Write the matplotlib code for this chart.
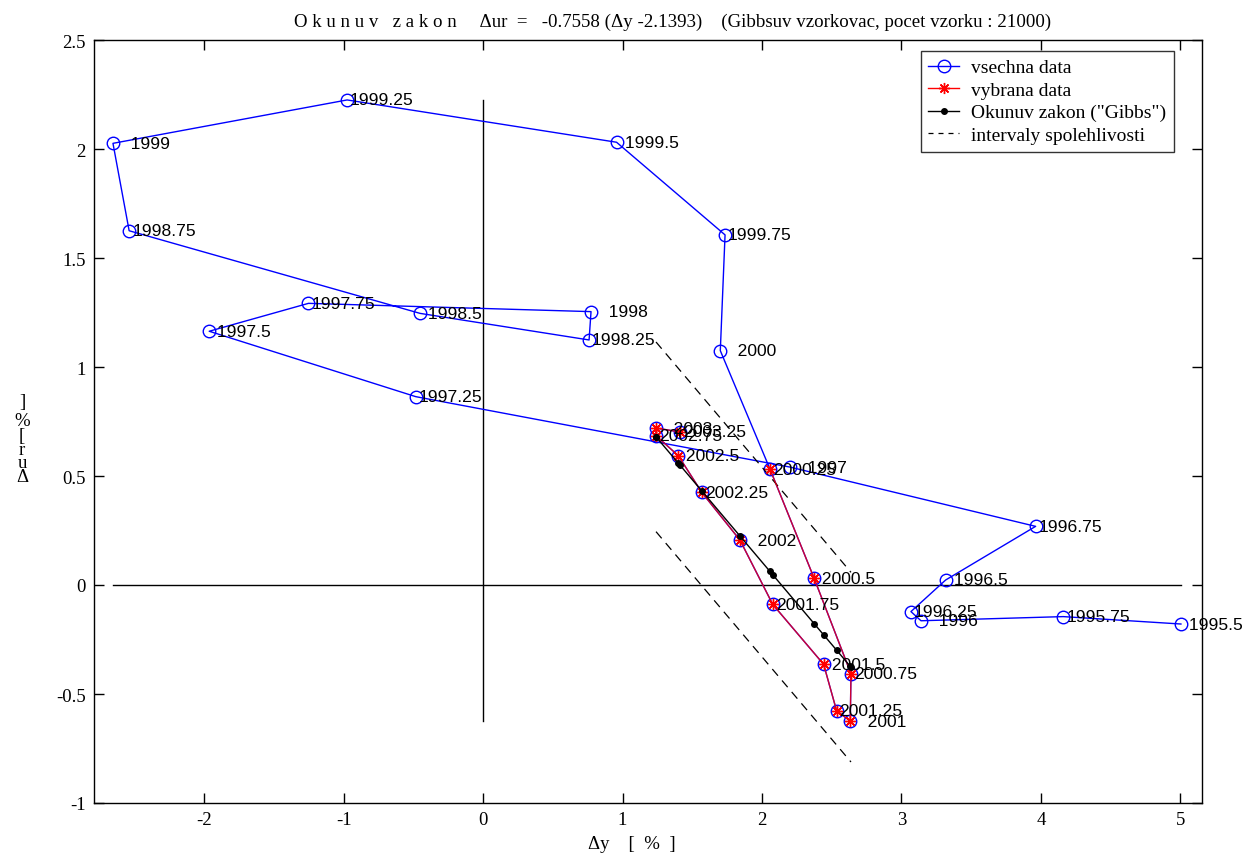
import matplotlib
matplotlib.use('Agg')
import matplotlib.pyplot as plt
from matplotlib.lines import Line2D
import numpy as np

# ---------------- data ----------------
years = [1995.5, 1995.75, 1996.0, 1996.25, 1996.5, 1996.75,
         1997.0, 1997.25, 1997.5, 1997.75, 1998.0, 1998.25,
         1998.5, 1998.75, 1999.0, 1999.25, 1999.5, 1999.75,
         2000.0, 2000.25, 2000.5, 2000.75, 2001.0, 2001.25,
         2001.5, 2001.75, 2002.0, 2002.25, 2002.5, 2002.75,
         2003.0, 2003.25]
dy = [5.004, 4.160, 3.140, 3.068, 3.317, 3.962,
      2.200, -0.483, -1.964, -1.252, 0.774, 0.760,
      -0.452, -2.538, -2.654, -0.975, 0.957, 1.735,
      1.701, 2.057, 2.373, 2.638, 2.633, 2.535,
      2.442, 2.077, 1.842, 1.568, 1.400, 1.240,
      1.240, 1.412]
dur = [-0.179, -0.145, -0.164, -0.122, 0.023, 0.269,
       0.541, 0.864, 1.164, 1.292, 1.254, 1.124,
       1.246, 1.625, 2.026, 2.225, 2.031, 1.606,
       1.075, 0.532, 0.032, -0.407, -0.624, -0.577,
       -0.364, -0.089, 0.206, 0.425, 0.593, 0.685,
       0.720, 0.702]
selection_start = 2000.25          # "vybrana data" = from 2000.25 on
okun_slope = -0.7558               # from the title
okun_shift = 2.1393                # from the title
ci_halfwidth = 0.435               # half width of the dashed band

x_ticks = [-2, -1, 0, 1, 2, 3, 4, 5]
y_ticks = [-1, -0.5, 0, 0.5, 1, 1.5, 2, 2.5]

title_text = ("O k u n u v   z a k o n     \u0394ur  =   -0.7558 (\u0394y -2.1393)"
              "    (Gibbsuv vzorkovac, pocet vzorku : 21000)")
legend_labels = ["vsechna data", "vybrana data",
                 "Okunuv zakon (\"Gibbs\")", "intervaly spolehlivosti"]

# ---------------- figure ----------------
W, H = 1244, 854
fig = plt.figure(figsize=(W / 100, H / 100), dpi=100)
ax = fig.add_axes([94 / W, 1 - 804 / H, (1202 - 94) / W, (804 - 41) / H])

serif = ['Liberation Serif', 'DejaVu Serif']
sans = ['Liberation Sans', 'DejaVu Sans']

x = np.array(dy)
y = np.array(dur)
yr = np.array(years)
sel = yr >= selection_start
xs, ys = x[sel], y[sel]

# zero axes drawn over the data extent
ax.plot([x.min(), x.max()], [0, 0], color='black', lw=1.0, zorder=1)
ax.plot([0, 0], [y.min(), y.max()], color='black', lw=1.0, zorder=1)

# all data
ax.plot(x, y, color='#0000ff', lw=1.0, marker='o', ms=9, mfc='none',
        mec='#0000ff', mew=1.0, zorder=2)

# selected data
ast = (8, 2, 0)
ax.plot(xs, ys, color='#ff0000', lw=1.0, alpha=0.8, zorder=3)
ax.plot(xs, ys, ls='none', marker=ast, ms=8, mec='#ff0000', mew=1.0,
        zorder=4)

# Okun's law fit from the stated coefficients
fit = okun_slope * (xs - okun_shift)
order = np.argsort(xs)
ax.plot(xs[order], fit[order], color='black', lw=1.0, marker='o', ms=4,
        zorder=5)

# confidence band
xe = np.array([xs.min(), xs.max()])
fe = okun_slope * (xe - okun_shift)
for sgn in (1, -1):
    ax.plot(xe, fe + sgn * ci_halfwidth, color='black', lw=0.9,
            dashes=(7, 5), zorder=2)

# point labels (num2str style, right aligned to 7 chars)
for xi, yi, yy in zip(x, y, yr):
    lab = f"{yy:g}".rjust(7)
    ax.annotate(lab, (xi, yi), xytext=(3, 0), textcoords='offset pixels',
                ha='left', va='center', fontsize=12.6, family=sans,
                color='black', zorder=6)

ax.set_xlim(-2.79, 5.155)
ax.set_ylim(-1, 2.5)
ax.set_xticks(x_ticks)
ax.set_yticks(y_ticks)
ax.set_xticklabels([f"{v:g}" for v in x_ticks], family=serif, fontsize=13.5)
ax.set_yticklabels([f"{v:g}" for v in y_ticks], family=serif, fontsize=13.5)
ax.tick_params(direction='in', length=7, width=1, top=True, right=True,
               pad=6)
for s in ax.spines.values():
    s.set_linewidth(1.0)

# legend
handles = [
    Line2D([], [], color='#0000ff', lw=1.0, marker='o', ms=9, mfc='none',
           mec='#0000ff'),
    Line2D([], [], color='#ff0000', lw=1.0, marker=ast, ms=8, mec='#ff0000'),
    Line2D([], [], color='black', lw=1.0, marker='o', ms=4),
    Line2D([], [], color='black', lw=0.9, dashes=(4, 4)),
]
leg = ax.legend(handles, legend_labels, loc='upper right',
                bbox_to_anchor=((1174 - 94) / (1202 - 94), (804 - 52) / (804 - 41)),
                prop={'family': serif, 'size': 14}, frameon=True, fancybox=False,
                handlelength=1.6, handletextpad=0.6, labelspacing=0.25,
                borderpad=0.4, borderaxespad=0)
leg.get_frame().set_edgecolor('black')
leg.get_frame().set_linewidth(1.0)

# title and axis labels
fig.text(673 / W, 1 - 22 / H, title_text, ha='center', va='center',
         family=serif, fontsize=13.6)
fig.text(632 / W, 1 - 845 / H, "\u0394y    [  %  ]", ha='center', va='center',
         family=serif, fontsize=13.5)
for ch, py in zip(["]", "%", "[", "r", "u", "\u0394"],
                  [403, 422, 437, 451, 463, 478]):
    fig.text(22 / W, 1 - py / H, ch, ha='center', va='center',
             family=serif, fontsize=13.5)

fig.savefig('out.png', dpi=100)
